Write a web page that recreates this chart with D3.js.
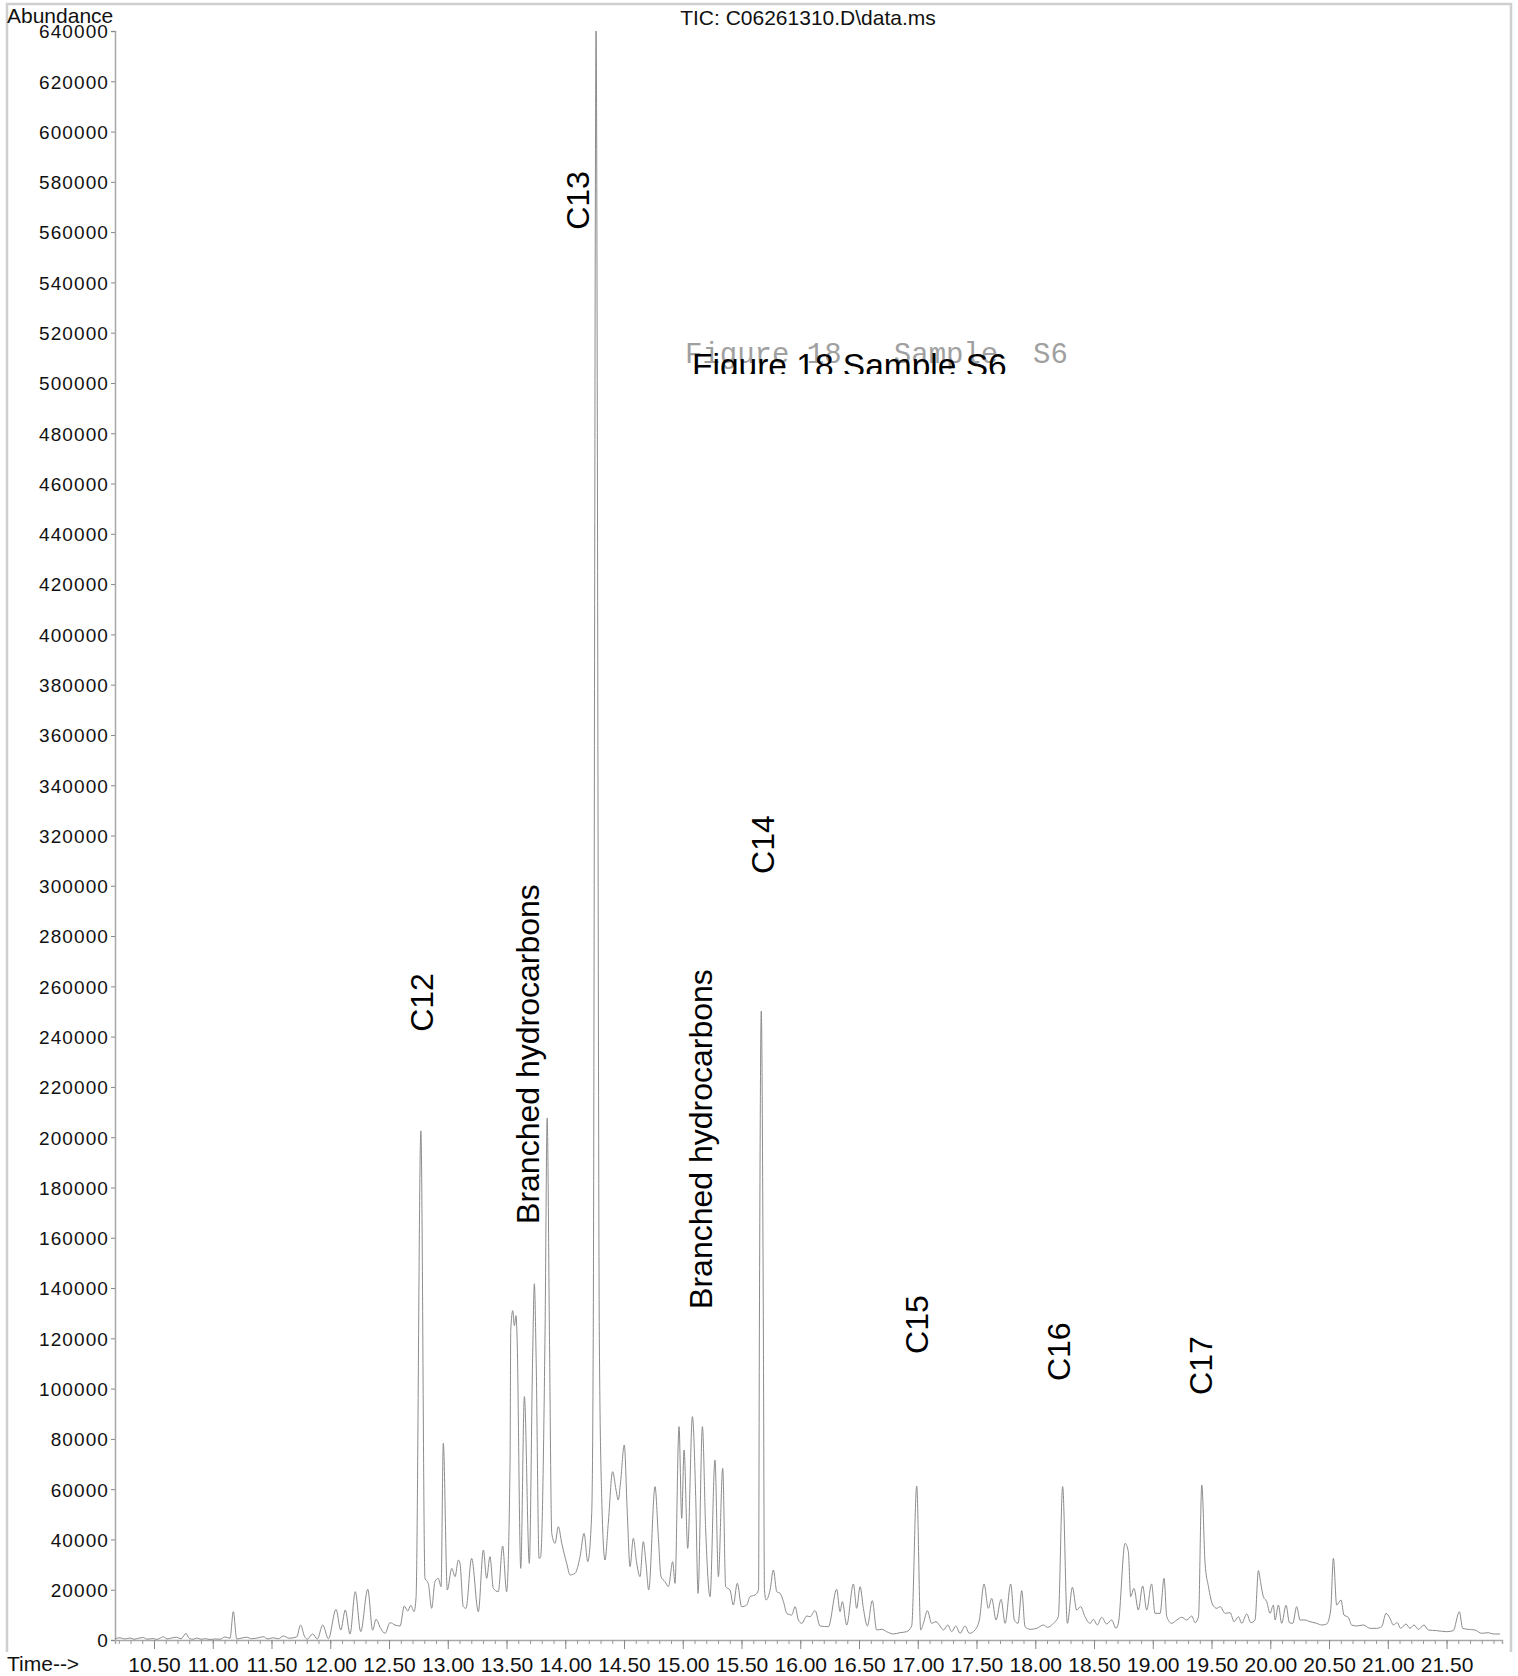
<!DOCTYPE html>
<html>
<head>
<meta charset="utf-8">
<script src="https://cdn.jsdelivr.net/npm/d3@7"></script>
<style>
  html, body { margin: 0; padding: 0; background: #fff; }
  svg { display: block; }
  text { font-family: "Liberation Sans", Arial, Helvetica, sans-serif; }
</style>
</head>
<body>
<script>
// ---------------- data ----------------
const chartTitle = "TIC: C06261310.D\\data.ms";
const yAxisTitle = "Abundance";
const xAxisTitle = "Time-->";
const figureCaptionMono = "Figure 18   Sample  S6";
const figureCaptionSans = "Figure 18 Sample S6";

const timeDomain = [10.168, 21.972];
const abundanceDomain = [0, 640000];
const yTickValues = d3.range(0, 640001, 20000);
const xMajorTicks = d3.range(10.5, 21.51, 0.5);
const xMinorTicks = d3.range(10.2, 21.95, 0.1);

// TIC trace: [retention time (min), abundance]
const ticTrace = [
[10.168,500],[10.21,900],[10.25,400],[10.296,800],[10.33,300],[10.37,700],[10.409,1000],[10.44,300],
[10.494,600],[10.52,200],[10.55,700],[10.579,1300],[10.61,400],[10.65,800],[10.693,1100],[10.73,500],
[10.772,2600],[10.80,600],[10.835,300],[10.863,800],[10.90,300],[10.94,500],[10.977,200],[11.02,400],
[11.06,300],[11.104,1200],[11.147,700],[11.175,11270],[11.204,400],[11.24,700],[11.289,1100],[11.33,500],
[11.38,800],[11.43,1300],[11.47,400],[11.51,900],[11.56,500],[11.60,1600],[11.65,700],[11.714,1200],
[11.748,5970],[11.78,1500],[11.804,300],[11.85,2400],[11.89,400],[11.936,5970],[11.984,500],[12.049,12200],
[12.089,3980],[12.128,11930],[12.168,2390],[12.213,19230],[12.259,3320],[12.319,20160],[12.361,3900],[12.389,8220],
[12.429,4640],[12.466,2650],[12.509,6900],[12.551,5970],[12.594,5570],[12.63,13530],[12.659,11500],[12.685,13790],
[12.713,11270],[12.73,16840],[12.771,202500],[12.806,24530],[12.834,22540],[12.863,12600],[12.891,23200],[12.919,24530],
[12.943,21215],[12.962,78240],[12.996,19890],[13.034,28510],[13.062,25200],[13.09,31820],[13.104,30500],[13.132,13260],
[13.155,12600],[13.203,32490],[13.26,11270],[13.303,35800],[13.331,24530],[13.359,33150],[13.388,20550],[13.43,19230],
[13.467,37390],[13.501,19230],[13.53,70290],[13.536,123000],[13.553,131000],[13.567,125000],[13.581,129000],[13.59,120000],
[13.621,28510],[13.652,96800],[13.694,30500],[13.722,112000],[13.737,141700],[13.752,112000],[13.777,32490],[13.79,33000],
[13.828,123000],[13.846,207600],[13.865,123000],[13.885,42430],[13.913,38450],[13.941,45080],[13.97,38450],[14.012,30500],
[14.041,25860],[14.083,26520],[14.126,33150],[14.16,42430],[14.191,31160],[14.225,50390],[14.238,120000],[14.262,640000],
[14.29,120000],[14.31,57020],[14.338,31820],[14.366,46410],[14.403,66960],[14.432,59670],[14.451,55690],[14.471,62990],
[14.502,77570],[14.528,50390],[14.551,29170],[14.579,40440],[14.608,30500],[14.636,25195],[14.664,39120],[14.687,30500],
[14.71,19890],[14.764,61000],[14.792,41110],[14.815,25195],[14.849,23200],[14.878,21215],[14.914,31160],[14.934,22540],
[14.968,84870],[14.991,48400],[15.011,75580],[15.042,36460],[15.082,88840],[15.11,57020],[15.13,18565],[15.167,84870],
[15.195,43760],[15.232,17240],[15.274,71600],[15.303,25195],[15.34,68290],[15.365,21215],[15.402,19890],[15.43,13920],
[15.464,22540],[15.501,13260],[15.544,13920],[15.572,17240],[15.615,17900],[15.645,20000],[15.652,123000],[15.668,250200],
[15.686,123000],[15.695,20000],[15.709,15910],[15.743,19890],[15.771,27850],[15.8,19230],[15.828,18565],[15.857,15250],
[15.885,10610],[15.927,9945],[15.956,13260],[15.984,7956],[16.013,6630],[16.055,9547],[16.083,9280],[16.126,11670],
[16.168,5569],[16.239,5304],[16.31,20155],[16.338,11270],[16.358,15250],[16.395,5967],[16.452,22280],[16.48,12600],
[16.509,21215],[16.537,12600],[16.571,5569],[16.613,15650],[16.65,3978],[16.693,4243],[16.735,3315],[16.792,2387],
[16.849,2917],[16.905,3315],[16.948,5569],[16.991,61260],[17.025,3978],[17.048,6630],[17.082,11670],[17.118,6630],
[17.155,7293],[17.189,5569],[17.218,3978],[17.255,5967],[17.289,3315],[17.323,5569],[17.36,2652],[17.402,5569],
[17.439,2652],[17.487,3978],[17.524,7956],[17.564,22280],[17.601,12600],[17.629,16575],[17.666,7956],[17.709,16177],
[17.743,6630],[17.791,22280],[17.822,7956],[17.853,6630],[17.885,19625],[17.913,5304],[17.956,4243],[18.012,4641],
[18.069,5967],[18.103,5039],[18.154,6630],[18.196,9280],[18.233,61000],[18.273,6630],[18.316,20950],[18.352,11934],
[18.386,13260],[18.423,9280],[18.466,6630],[18.494,8222],[18.528,5967],[18.565,9017],[18.608,6365],[18.65,7956],
[18.687,4641],[18.707,6630],[18.764,38455],[18.792,35140],[18.812,17240],[18.84,20550],[18.877,11934],[18.914,21480],
[18.948,11934],[18.99,22280],[19.019,10610],[19.062,10600],[19.096,24530],[19.119,9280],[19.161,6630],[19.204,7956],
[19.247,9017],[19.289,7956],[19.332,9547],[19.36,6896],[19.389,9280],[19.417,61660],[19.445,30500],[19.474,21215],
[19.511,13920],[19.545,12600],[19.573,13260],[19.616,10610],[19.658,10874],[19.692,7293],[19.729,9280],[19.757,6630],
[19.8,10343],[19.834,6896],[19.87,7956],[19.899,27580],[19.919,22540],[19.941,17240],[19.97,15250],[19.998,10610],
[20.026,13920],[20.041,7956],[20.069,13920],[20.097,6630],[20.134,13790],[20.163,6896],[20.191,6630],[20.225,13260],
[20.253,7956],[20.296,7956],[20.338,7293],[20.395,6630],[20.438,5967],[20.48,6365],[20.514,11934],[20.537,32490],
[20.565,13920],[20.602,15910],[20.627,9945],[20.664,9017],[20.692,5967],[20.735,5569],[20.792,5967],[20.849,4641],
[20.905,4641],[20.948,5304],[20.985,10610],[21.019,8620],[21.047,5967],[21.081,6896],[21.109,4641],[21.155,6365],
[21.189,4641],[21.223,5967],[21.26,4243],[21.308,5967],[21.345,3978],[21.416,3713],[21.501,3315],[21.557,3713],
[21.609,11270],[21.637,4641],[21.685,4243],[21.742,3978],[21.799,2652],[21.855,2917],[21.898,2387],[21.955,2387]
];

// Peak annotations: text, anchor time, anchor abundance (bottom of the rotated label)
const peakLabels = [
  { text: "C12", time: 12.873, abundance: 241900 },
  { text: "Branched hydrocarbons", time: 13.773, abundance: 165500 },
  { text: "C13", time: 14.201, abundance: 560900 },
  { text: "Branched hydrocarbons", time: 15.250, abundance: 131700 },
  { text: "C14", time: 15.776, abundance: 304700 },
  { text: "C15", time: 17.086, abundance: 113800 },
  { text: "C16", time: 18.297, abundance: 103000 },
  { text: "C17", time: 19.505, abundance: 97500 }
];

// ---------------- drawing ----------------
const W = 1518, H = 1676;
const svg = d3.select("body").append("svg")
  .attr("width", W).attr("height", H)
  .attr("viewBox", `0 0 ${W} ${H}`);

svg.append("rect").attr("width", W).attr("height", H).attr("fill", "#fff");

// outer frame (top, left, right)
const frame = svg.append("g").attr("stroke", "#cfcfcf").attr("stroke-width", 2.5).attr("fill", "none");
frame.append("path").attr("d", "M7,1652 L7,4 L1511,4 L1511,1652");

const x = d3.scaleLinear().domain(timeDomain).range([115, 1502]);
const y = d3.scaleLinear().domain(abundanceDomain).range([1640, 31]);

// Y axis
const yAxis = svg.append("g")
  .attr("transform", "translate(115,0)")
  .call(d3.axisLeft(y).tickValues(yTickValues).tickSize(4).tickPadding(2).tickFormat(d3.format("d")));
yAxis.select(".domain").attr("stroke", "#a8a8a8").attr("stroke-width", 1.5);
yAxis.selectAll(".tick line").attr("stroke", "#888");
yAxis.selectAll(".tick text")
  .attr("fill", "#111")
  .style("font-family", "'Liberation Sans', Arial, sans-serif")
  .style("font-size", "19px")
  .style("letter-spacing", "1.1px")
  .attr("dy", "0.36em");

// X axis - minor ticks
const xMinor = svg.append("g")
  .attr("transform", "translate(0,1640)")
  .call(d3.axisBottom(x).tickValues(xMinorTicks).tickSize(4).tickFormat(""));
xMinor.select(".domain").attr("stroke", "#a8a8a8").attr("stroke-width", 1.5);
xMinor.selectAll(".tick line").attr("stroke", "#999");

// X axis - major ticks with labels
const xMajor = svg.append("g")
  .attr("transform", "translate(0,1640)")
  .call(d3.axisBottom(x).tickValues(xMajorTicks).tickSize(9).tickPadding(8).tickFormat(d3.format(".2f")));
xMajor.select(".domain").remove();
xMajor.selectAll(".tick line").attr("stroke", "#888");
xMajor.selectAll(".tick text")
  .attr("fill", "#111")
  .style("font-family", "'Liberation Sans', Arial, sans-serif")
  .style("font-size", "21px");

// Axis titles
svg.append("text")
  .attr("x", 7).attr("y", 23)
  .attr("fill", "#111")
  .style("font-size", "21px")
  .text(yAxisTitle);

svg.append("text")
  .attr("x", 7).attr("y", 1671)
  .attr("fill", "#111")
  .style("font-size", "21px")
  .text(xAxisTitle);

// Chart title
svg.append("text")
  .attr("x", 808).attr("y", 25)
  .attr("text-anchor", "middle")
  .attr("fill", "#111")
  .style("font-size", "21px")
  .text(chartTitle);

// Trace
const line = d3.line().x(d => x(d[0])).y(d => y(d[1])).curve(d3.curveMonotoneX);
svg.append("path")
  .datum(ticTrace)
  .attr("fill", "none")
  .attr("stroke", "#8c8c8c")
  .attr("stroke-width", 1)
  .attr("stroke-linejoin", "round")
  .attr("d", line);

// Overlapping figure captions
svg.append("text")
  .attr("x", 685).attr("y", 363)
  .attr("fill", "#a0a0a0")
  .style("font-family", "'Liberation Mono', 'Courier New', monospace")
  .style("font-size", "29px")
  .style("white-space", "pre")
  .attr("xml:space", "preserve")
  .text(figureCaptionMono);

svg.append("clipPath").attr("id", "capClip")
  .append("rect").attr("x", 600).attr("y", 300).attr("width", 500).attr("height", 74);

svg.append("text")
  .attr("x", 692).attr("y", 377)
  .attr("clip-path", "url(#capClip)")
  .attr("fill", "#000")
  .style("font-size", "33.5px")
  .text(figureCaptionSans);

// Peak labels (rotated)
svg.append("g").selectAll("text")
  .data(peakLabels)
  .join("text")
  .attr("transform", d => `translate(${x(d.time)},${y(d.abundance)}) rotate(-90)`)
  .attr("text-anchor", "start")
  .attr("fill", "#000")
  .style("font-size", "32px")
  .text(d => d.text);
</script>
</body>
</html>
